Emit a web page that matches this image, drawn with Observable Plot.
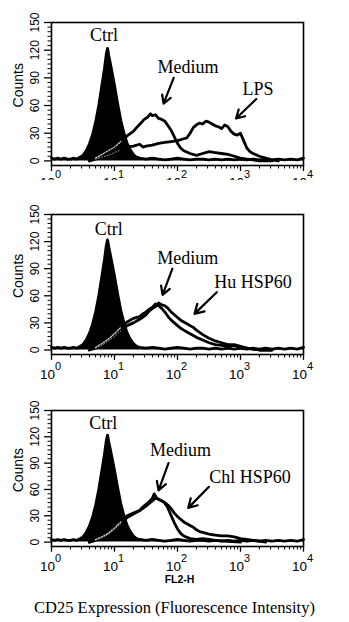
<!DOCTYPE html>
<html><head><meta charset="utf-8">
<script src="https://cdn.jsdelivr.net/npm/d3@7"></script>
<script src="https://cdn.jsdelivr.net/npm/@observablehq/plot@0.6"></script>
<style>
body{margin:0;background:#fff;}
#wrap{position:relative;width:349px;height:622px;overflow:hidden;background:#fff;}
#wrap svg{position:absolute;left:0;overflow:hidden;}
</style></head><body><div id="wrap"></div>
<script>
// ---- tick values / labels ----
const xMajor = [1, 10, 100, 1000, 10000];
const xExponents = ["0", "1", "2", "3", "4"];
const xMinor = [2,3,4,5,6,7,8,9,20,30,40,50,60,70,80,90,200,300,400,500,600,700,800,900,2000,3000,4000,5000,6000,7000,8000,9000];
const yMajor = [0, 30, 60, 90, 120, 150];
const yMinor = [5,10,15,20,25,35,40,45,50,55,65,70,75,80,85,95,100,105,110,115,125,130,135,140,145];
const xTitle = "FL2-H";
const yTitle = "Counts";
const caption = "CD25 Expression (Fluorescence Intensity)";

// ---- series: [log10(FL2-H), counts] ----
const ctrl = [[0.00,3],[0.05,2],[0.10,3],[0.15,2],[0.20,3],[0.25,2],[0.30,2],[0.35,3],[0.40,2],[0.45,4],[0.50,6],[0.55,11],[0.60,18],[0.65,28],[0.70,42],[0.75,60],[0.80,82],[0.84,100],[0.87,116],[0.89,122],[0.91,114],[0.95,100],[1.00,82],[1.05,62],[1.10,44],[1.15,30],[1.20,19],[1.25,12],[1.30,7],[1.35,4],[1.40,3],[1.50,2],[1.60,3],[1.70,2],[1.80,1],[1.90,2],[2.00,3],[2.10,2],[2.20,1],[2.30,2],[2.40,2],[2.50,1],[2.60,2],[2.70,1],[2.80,2],[2.90,1],[3.00,2],[3.10,1],[3.20,2],[3.30,1],[3.40,2],[3.50,1],[3.60,2],[3.70,1],[3.80,2],[3.90,1],[4.00,3]];

const medium1 = [[0.60,0],[0.70,3],[0.80,7],[0.90,11],[1.00,15],[1.10,21],[1.20,27],[1.26,30],[1.30,32],[1.35,36],[1.42,41],[1.47,45],[1.52,47],[1.57,51],[1.60,49],[1.65,50],[1.70,46],[1.75,45],[1.80,43],[1.85,38],[1.90,33],[1.95,26],[2.00,19],[2.05,14],[2.10,11],[2.20,8],[2.30,6],[2.40,8],[2.50,10],[2.60,9],[2.70,8],[2.80,7],[2.90,5],[3.00,3],[3.10,2],[3.20,1],[3.30,0],[3.50,0]];
const lps = [[0.60,0],[0.70,2],[0.80,4],[0.90,6],[1.00,9],[1.10,12],[1.20,15],[1.30,16],[1.40,18],[1.45,15],[1.50,16],[1.60,17],[1.70,19],[1.80,20],[1.90,21],[2.00,22],[2.10,24],[2.15,25],[2.20,30],[2.25,36],[2.30,39],[2.35,41],[2.40,40],[2.45,43],[2.50,42],[2.55,40],[2.60,38],[2.65,37],[2.70,35],[2.75,39],[2.80,37],[2.85,32],[2.90,29],[2.95,28],[3.00,30],[3.05,22],[3.10,14],[3.15,10],[3.20,8],[3.30,5],[3.40,3],[3.50,1],[3.60,0]];

const medium2 = [[0.60,0],[0.70,3],[0.80,7],[0.90,12],[1.00,18],[1.10,25],[1.20,31],[1.30,35],[1.40,37],[1.45,40],[1.50,42],[1.55,45],[1.60,47],[1.65,51],[1.70,49],[1.75,46],[1.80,42],[1.85,37],[1.90,33],[1.95,30],[2.00,27],[2.05,24],[2.10,22],[2.15,20],[2.20,18],[2.25,16],[2.30,14],[2.40,11],[2.50,8],[2.60,6],[2.70,5],[2.80,4],[2.90,5],[3.00,3],[3.10,2],[3.20,1],[3.30,0],[3.50,0]];
const huHsp60 = [[0.60,0],[0.70,2],[0.80,5],[0.90,10],[1.00,15],[1.10,21],[1.20,27],[1.30,30],[1.40,34],[1.50,39],[1.55,43],[1.60,46],[1.65,48],[1.70,52],[1.75,50],[1.80,49],[1.85,46],[1.90,42],[1.95,39],[2.00,36],[2.05,33],[2.10,31],[2.15,29],[2.20,27],[2.25,25],[2.30,22],[2.40,17],[2.50,13],[2.60,10],[2.70,8],[2.80,6],[2.90,6],[3.00,4],[3.10,2],[3.20,1],[3.30,0],[3.50,0]];

const medium3 = [[0.60,0],[0.70,3],[0.80,6],[0.90,10],[1.00,16],[1.10,23],[1.20,30],[1.30,33],[1.40,36],[1.45,40],[1.50,43],[1.55,46],[1.60,50],[1.63,55],[1.67,50],[1.72,48],[1.78,46],[1.84,40],[1.90,30],[1.95,22],[2.00,15],[2.05,10],[2.10,7],[2.20,4],[2.30,3],[2.40,4],[2.50,3],[2.60,2],[2.80,1],[3.00,0]];
const chlHsp60 = [[0.60,0],[0.70,2],[0.80,5],[0.90,9],[1.00,14],[1.10,21],[1.20,28],[1.30,32],[1.40,36],[1.50,41],[1.55,44],[1.60,47],[1.65,50],[1.70,49],[1.75,47],[1.80,45],[1.85,42],[1.90,38],[1.95,33],[2.00,29],[2.05,26],[2.10,23],[2.15,21],[2.20,19],[2.25,17],[2.30,14],[2.35,12],[2.40,11],[2.50,9],[2.60,8],[2.70,7],[2.80,7],[2.90,6],[3.00,4],[3.10,3],[3.20,2],[3.30,1],[3.40,0]];

// ---- annotations (data coordinates: FL2-H, counts) ----
const labels1 = [{x: 6.8, y: 136, text: "Ctrl"}, {x: 147, y: 101, text: "Medium"}, {x: 1900, y: 78, text: "LPS"}];
const arrows1 = [{x1: 87, y1: 90, x2: 60, y2: 62}, {x1: 1780, y1: 67, x2: 850, y2: 46}];
const labels2 = [{x: 8.1, y: 134, text: "Ctrl"}, {x: 145, y: 102, text: "Medium"}, {x: 1580, y: 75, text: "Hu HSP60"}];
const arrows2 = [{x1: 83, y1: 90, x2: 58, y2: 61}, {x1: 420, y1: 64, x2: 186, y2: 40}];
const labels3 = [{x: 6.6, y: 136, text: "Ctrl"}, {x: 112, y: 105, text: "Medium"}, {x: 1410, y: 74, text: "Chl HSP60"}];
const arrows3 = [{x1: 72, y1: 90, x2: 50, y2: 59}, {x1: 316, y1: 63, x2: 148, y2: 39}];

const SANS = "'Liberation Sans Narrow','Arial Narrow','Liberation Sans',Arial,sans-serif";
const SERIF = "'Liberation Serif','Times New Roman',serif";
const X = d => 10 ** d[0], Y = d => d[1];
const inner = arr => arr.filter(d => d[0] >= 0.62 && d[0] <= 1.12);

function panel({top, height, marginTop, marginBottom, medium, treated, labels, arrows, shift = 0, last = false}) {
  const svg = Plot.plot({
    width: 349, height, marginLeft: 51, marginRight: 46, marginTop, marginBottom,
    style: {background: "transparent", overflow: "hidden", fontFamily: SANS, fontSize: "11px"},
    x: {type: "log", domain: [1, 1e4], ticks: xMinor, tickSize: 3.5, tickFormat: () => "", label: null, axis: "bottom"},
    y: {domain: [-5, 150], ticks: yMinor, tickSize: 3.5, tickFormat: () => "", label: null, axis: "left"},
    marks: [
      Plot.line(treated, {x: X, y: Y, stroke: "black", strokeWidth: 2.8}),
      Plot.line(medium, {x: X, y: Y, stroke: "black", strokeWidth: 2.8}),
      Plot.areaY(ctrl, {x: X, y: Y, fill: "black"}),
      Plot.line(ctrl, {x: X, y: Y, stroke: "black", strokeWidth: 2.8}),
      Plot.line(inner(medium), {x: X, y: Y, stroke: "#d0d0d0", strokeWidth: 1.3, strokeDasharray: "1.5,1.5"}),
      Plot.line(inner(treated), {x: X, y: Y, stroke: "#a0a0a0", strokeWidth: 1, strokeDasharray: "1,2"}),
      Plot.frame({stroke: "black", strokeWidth: 1.6}),
      Plot.ruleX(xMajor, {x: d => d, y1: -5, y2: -11.5, stroke: "black", strokeWidth: 1.3}),
      Plot.ruleY(yMajor, {y: d => d, x1: 10 ** -0.11, x2: 1, stroke: "black", strokeWidth: 1.3}),
      Plot.text(xMajor, {x: d => d, frameAnchor: "bottom", text: () => "10", dy: 20.5 + shift, dx: -4, textAnchor: "middle", lineAnchor: "middle", fontSize: 13.5, fontFamily: SANS}),
      Plot.text(xMajor, {x: d => d, frameAnchor: "bottom", text: (d, i) => xExponents[i], dy: 11.5 + shift, dx: 3.5, textAnchor: "start", lineAnchor: "middle", fontSize: 11, fontFamily: SANS}),
      Plot.text(yMajor, {y: d => d, frameAnchor: "left", text: d => String(d), dx: -16, rotate: -90, textAnchor: "middle", lineAnchor: "middle", fontSize: 12, fontFamily: SANS}),
      Plot.text([yTitle], {y: () => 82, frameAnchor: "left", text: d => d, dx: -33, rotate: -90, textAnchor: "middle", lineAnchor: "middle", fontSize: 14, fontFamily: SANS}),
      Plot.text(labels, {x: "x", y: "y", text: "text", fontSize: 18, fontFamily: SERIF, fill: "black"}),
      Plot.arrow(arrows, {x1: "x1", y1: "y1", x2: "x2", y2: "y2", stroke: "black", strokeWidth: 2.2, headLength: 9}),
      ...(last ? [
        Plot.text([xTitle], {frameAnchor: "bottom", text: d => d, dy: 33, dx: 2, textAnchor: "middle", lineAnchor: "middle", fontSize: 10.5, fontWeight: "bold", fontFamily: SANS}),
        Plot.text([caption], {frameAnchor: "bottom", text: d => d, dy: 61, dx: -3, textAnchor: "middle", lineAnchor: "middle", fontSize: 16.5, fontFamily: SERIF})
      ] : [])
    ]
  });
  svg.style.top = top + "px";
  document.getElementById("wrap").appendChild(svg);
}

panel({top: 0, height: 180, marginTop: 22, marginBottom: 15, medium: medium1, treated: lps, labels: labels1, arrows: arrows1, shift: -3});
panel({top: 180, height: 200, marginTop: 34, marginBottom: 26, medium: medium2, treated: huHsp60, labels: labels2, arrows: arrows2});
panel({top: 380, height: 242, marginTop: 30, marginBottom: 76, medium: medium3, treated: chlHsp60, labels: labels3, arrows: arrows3, last: true});
</script>
</body></html>
